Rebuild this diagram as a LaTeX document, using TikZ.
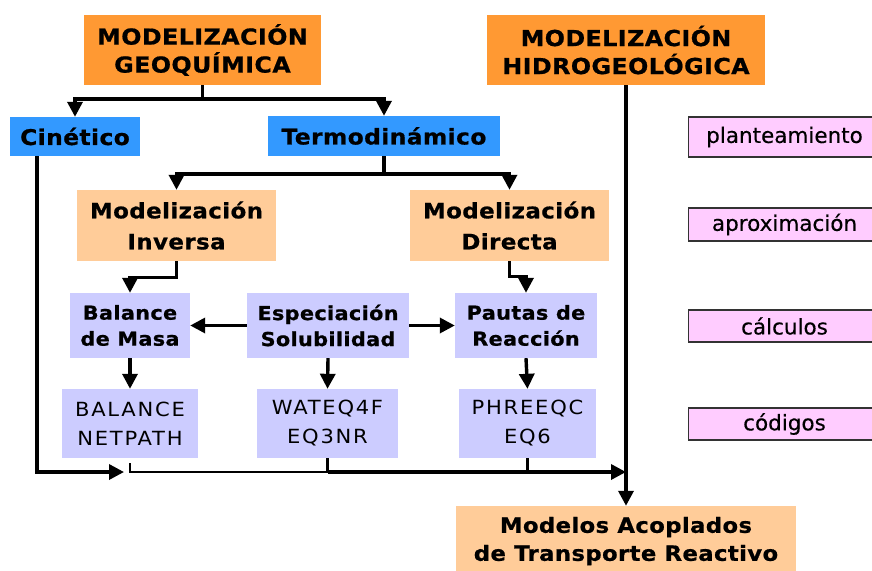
\documentclass[tikz,border=0pt]{standalone}
\usepackage{fontspec}
\setmainfont{DejaVu Sans}[FakeStretch=1.08,LetterSpace=2,BoldFeatures={FakeBold=0.8}]
\newfontfamily\codefont{DejaVu Sans}[FakeStretch=1.08,LetterSpace=9]
\newfontfamily\phasefont{DejaVu Sans}[FakeBold=0.3]
\usetikzlibrary{arrows.meta}
\definecolor{geoorange}{HTML}{FF9933}
\definecolor{kindblue}{HTML}{3399FF}
\definecolor{peach}{HTML}{FFCC99}
\definecolor{lavender}{HTML}{CCCCFF}
\definecolor{pinkbox}{HTML}{FFCCFF}

\begin{document}
\begin{tikzpicture}[x=1pt,y=-1pt,>={Triangle[length=15pt,width=15pt]},
  head/.style={fill=geoorange,align=center,inner sep=0pt,minimum height=70pt,font=\bfseries\fontsize{22}{28}\selectfont},
  kind/.style={fill=kindblue,align=center,inner sep=0pt,minimum height=40pt,font=\bfseries\fontsize{21.6}{26}\selectfont},
  mode/.style={fill=peach,align=center,inner sep=0pt,minimum height=71pt,font=\bfseries\fontsize{21.2}{31}\selectfont},
  task/.style={fill=lavender,align=center,inner sep=0pt,minimum height=65pt,font=\bfseries\fontsize{19.2}{26}\selectfont},
  code/.style={fill=lavender,align=center,inner sep=0pt,minimum height=69pt,font=\codefont\fontsize{19.5}{29}\selectfont},
  phase/.style={fill=pinkbox,draw=black!80,line width=1.6pt,inner sep=0pt,minimum width=192pt,minimum height=32pt,font=\phasefont\fontsize{21.5}{24}\selectfont},
  link/.style={line width=3.4pt},
  thinlink/.style={line width=1.3pt}]
\useasboundingbox (0,0) rectangle (872,570);

% cabeceras
\node[head,minimum width=237pt] (geo) at (202.5,50) {MODELIZACIÓN\\GEOQUÍMICA};
\node[head,minimum width=278pt] (hidro) at (626,50) {MODELIZACIÓN\\HIDROGEOLÓGICA};

% tipos de modelo
\node[kind,minimum width=130pt,minimum height=39pt] (cin) at (75,136.5) {Cinético};
\node[kind,minimum width=232pt] (termo) at (384,136) {Termodinámico};
\node[mode,minimum width=199pt] (inv) at (176.5,225.5) {Modelización\\Inversa};
\node[mode,minimum width=199pt] (dir) at (509.5,225.5) {Modelización\\Directa};

% calculos y codigos
\node[task,minimum width=120pt] (bal) at (130,325.5) {Balance\\de Masa};
\node[task,minimum width=162pt] (esp) at (328,325.5) {Especiación\\Solubilidad};
\node[task,minimum width=142pt] (pau) at (526,325.5) {Pautas de\\Reacción};
\node[code,minimum width=136pt] (balc) at (130,423.5) {BALANCE\\NETPATH};
\node[code,minimum width=141pt] (wat) at (327.5,423.5) {WATEQ4F\\EQ3NR};
\node[code,minimum width=137pt] (phr) at (527.5,423.5) {PHREEQC\\EQ6};

\node[mode,minimum width=340pt,minimum height=70pt,font=\bfseries\fontsize{21}{28}\selectfont] (acop) at (626,541) {Modelos Acoplados\\de Transporte Reactivo};

% etapas
\node[phase,minimum height=40pt] (plan) at (784.5,137) {planteamiento\hspace{4pt}};
\node[phase,minimum height=33pt] (aprox) at (784.5,224.5) {aproximación\hspace{4pt}};
\node[phase] (calc) at (784.5,326) {cálculos\hspace{4pt}};
\node[phase] (cod) at (784.5,424) {códigos\hspace{4pt}};

% conectores
\coordinate (g1) at (202.5,99);
\coordinate (t1) at (384,174);
\coordinate (k1) at (124,472);
\coordinate (j1) at (327.5,472);
\coordinate (h1) at (626,472);
\draw[link] (geo.south) -- (g1);
\draw[link,->] (g1) -| (cin.north);
\draw[link,->] (g1) -| (termo.north);
\draw[link] (termo.south) -- (t1);
\draw[link,->] (t1) -| (inv.north);
\draw[link,->] (t1) -| (dir.north);
\draw[link,->] (inv.south) -- ++(0,16) -| (bal.north);
\draw[link,->] (dir.south) -- ++(0,15) -| (pau.north);
\draw[link,->] (esp.west) -- (bal.east);
\draw[link,->] (esp.east) -- (pau.west);
\draw[link,->] (bal.south) -- (balc.north);
\draw[link,->] (esp.south) -- (wat.north);
\draw[link,->] (pau.south) -- (phr.north);
\draw[link,->] ([xshift=27pt]cin.south west) |- (k1);
\draw[thinlink] ([yshift=-5pt]balc.south) |- (j1);
\draw[link] (wat.south) -- (j1);
\draw[link] (phr.south) -- (phr.south |- j1);
\draw[link,->] (j1) -- (h1);
\draw[link,->] (hidro.south) -- (acop.north);
\end{tikzpicture}
\end{document}
